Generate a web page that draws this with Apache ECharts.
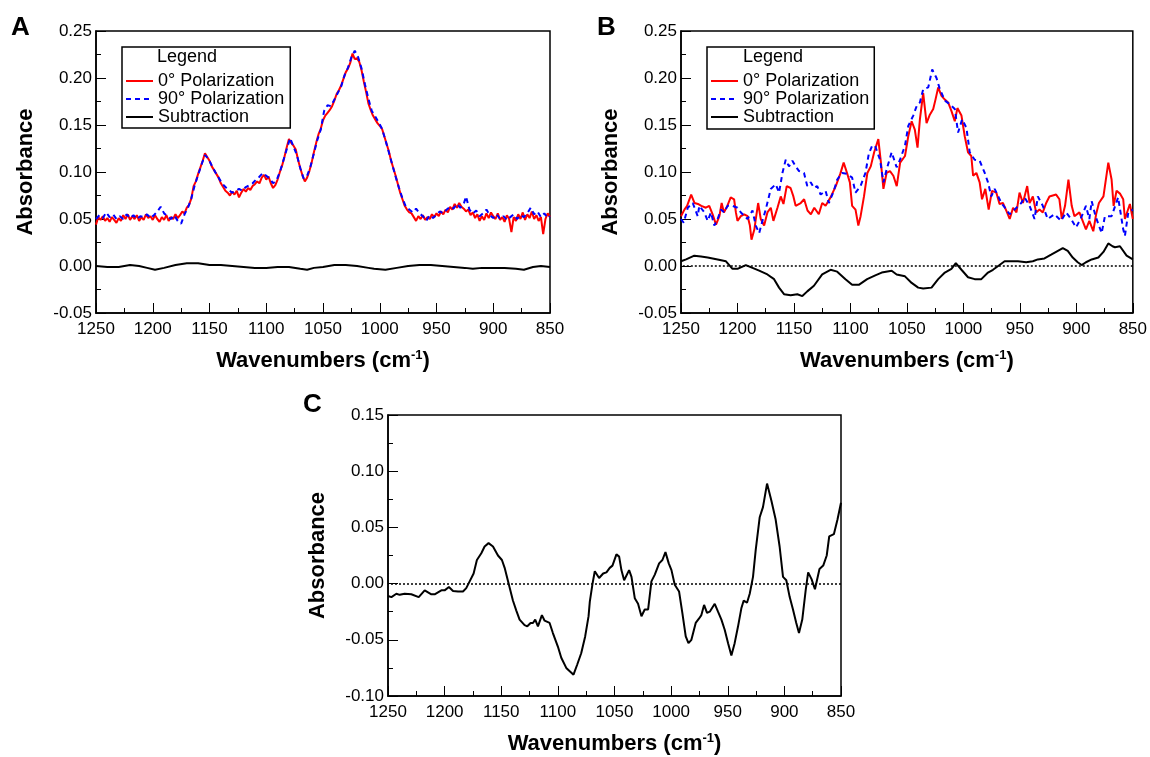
<!DOCTYPE html>
<html>
<head>
<meta charset="utf-8">
<script src="https://cdn.jsdelivr.net/npm/echarts@6/dist/echarts.min.js"></script>
<style>
  html, body { margin: 0; padding: 0; background: #fff; }
  #chart { width: 1150px; height: 757px; }
</style>
</head>
<body>
<div id="chart"></div>
<script>
const FONT = '"Liberation Sans", Arial, sans-serif'
const NAMES = ['0° Polarization', '90° Polarization', 'Subtraction']

// Panel A spectra  [wavenumber, absorbance]
const absA0 = [
  [1250,0.044],[1248,0.052],[1246,0.049],[1244,0.053],[1242,0.048],[1240,0.051],[1238,0.047],[1236,0.052],[1234,0.049],[1232,0.046],
  [1230,0.051],[1228,0.048],[1226,0.054],[1224,0.050],[1222,0.055],[1220,0.049],[1218,0.053],[1216,0.050],[1214,0.054],[1212,0.048],
  [1210,0.052],[1208,0.049],[1206,0.055],[1204,0.051],[1202,0.053],[1200,0.049],[1198,0.054],[1196,0.050],[1194,0.047],[1192,0.052],
  [1190,0.049],[1188,0.054],[1186,0.048],[1184,0.052],[1182,0.050],[1180,0.055],[1178,0.051],[1176,0.054],[1174,0.058],[1172,0.056],
  [1170,0.062],[1168,0.065],[1166,0.072],[1164,0.085],[1162,0.090],[1160,0.098],[1158,0.105],[1156,0.112],[1154,0.120],[1152,0.116],
  [1150,0.112],[1148,0.106],[1146,0.102],[1144,0.098],[1142,0.094],[1140,0.088],[1138,0.084],[1136,0.080],[1134,0.078],[1132,0.075],
  [1130,0.079],[1128,0.076],[1126,0.080],[1124,0.073],[1122,0.078],[1120,0.082],[1118,0.079],[1116,0.083],[1114,0.081],[1112,0.085],
  [1110,0.087],[1108,0.090],[1106,0.088],[1104,0.094],[1102,0.097],[1100,0.092],[1098,0.095],[1096,0.088],[1094,0.083],[1092,0.086],
  [1090,0.092],[1088,0.100],[1086,0.107],[1084,0.116],[1082,0.126],[1080,0.135],[1078,0.131],[1076,0.128],[1074,0.124],[1072,0.113],
  [1070,0.104],[1068,0.096],[1066,0.090],[1064,0.094],[1062,0.101],[1060,0.110],[1058,0.121],[1056,0.131],[1054,0.140],[1052,0.146],
  [1050,0.155],[1048,0.160],[1046,0.163],[1044,0.166],[1042,0.170],[1040,0.176],[1038,0.183],[1036,0.187],[1034,0.192],[1032,0.199],
  [1030,0.206],[1028,0.210],[1026,0.216],[1024,0.226],[1022,0.220],[1020,0.221],[1018,0.217],[1016,0.208],[1014,0.196],[1012,0.185],
  [1010,0.173],[1008,0.166],[1006,0.160],[1004,0.156],[1002,0.152],[1000,0.149],[998,0.146],[996,0.138],[994,0.130],[992,0.122],
  [990,0.112],[988,0.104],[986,0.096],[984,0.087],[982,0.078],[980,0.071],[978,0.064],[976,0.060],[974,0.057],[972,0.056],
  [970,0.052],[968,0.048],[966,0.053],[964,0.050],[962,0.054],[960,0.049],[958,0.052],[956,0.050],[954,0.055],[952,0.052],
  [950,0.056],[948,0.053],[946,0.058],[944,0.055],[942,0.060],[940,0.057],[938,0.063],[936,0.060],[934,0.066],[932,0.062],
  [930,0.067],[928,0.063],[926,0.061],[924,0.058],[922,0.060],[920,0.054],[918,0.057],[916,0.051],[914,0.055],[912,0.048],
  [910,0.053],[908,0.049],[906,0.056],[904,0.051],[902,0.057],[900,0.053],[898,0.050],[896,0.056],[894,0.049],[892,0.052],
  [890,0.047],[888,0.054],[886,0.050],[884,0.036],[882,0.052],[880,0.048],[878,0.055],[876,0.050],[874,0.057],[872,0.049],
  [870,0.055],[868,0.051],[866,0.058],[864,0.050],[862,0.054],[860,0.048],[858,0.052],[856,0.034],[854,0.050],[852,0.056],[850,0.052]
]
const absA90 = [
  [1250,0.050],[1247,0.054],[1244,0.051],[1241,0.057],[1238,0.052],[1235,0.055],[1232,0.050],[1229,0.053],[1226,0.050],[1223,0.055],
  [1220,0.051],[1217,0.054],[1214,0.050],[1211,0.053],[1208,0.052],[1205,0.055],[1202,0.051],[1199,0.054],[1196,0.058],[1193,0.063],
  [1190,0.056],[1187,0.053],[1184,0.050],[1181,0.054],[1178,0.048],[1175,0.045],[1172,0.055],[1169,0.062],[1166,0.072],[1163,0.086],
  [1160,0.097],[1157,0.108],[1154,0.118],[1151,0.114],[1148,0.107],[1145,0.100],[1142,0.094],[1139,0.088],[1136,0.084],[1133,0.081],
  [1130,0.078],[1127,0.080],[1124,0.082],[1121,0.080],[1118,0.084],[1115,0.086],[1112,0.088],[1109,0.092],[1106,0.095],[1103,0.099],
  [1100,0.096],[1097,0.093],[1094,0.088],[1091,0.091],[1088,0.100],[1085,0.112],[1082,0.124],[1079,0.136],[1076,0.127],[1073,0.118],
  [1070,0.104],[1067,0.093],[1064,0.096],[1061,0.106],[1058,0.120],[1055,0.134],[1052,0.145],[1049,0.165],[1046,0.171],[1043,0.170],
  [1040,0.177],[1037,0.184],[1034,0.191],[1031,0.203],[1028,0.211],[1025,0.222],[1022,0.229],[1019,0.222],[1016,0.210],[1013,0.193],
  [1010,0.178],[1007,0.165],[1004,0.159],[1001,0.153],[998,0.146],[995,0.134],[992,0.121],[989,0.108],[986,0.095],[983,0.083],
  [980,0.072],[977,0.063],[974,0.060],[971,0.057],[968,0.061],[965,0.056],[962,0.053],[959,0.048],[956,0.054],[953,0.051],
  [950,0.055],[947,0.058],[944,0.056],[941,0.060],[938,0.063],[935,0.061],[932,0.066],[929,0.062],[926,0.066],[924,0.074],
  [921,0.060],[918,0.056],[915,0.059],[912,0.053],[909,0.056],[906,0.060],[903,0.054],[900,0.051],[897,0.055],[894,0.050],
  [891,0.053],[888,0.049],[885,0.052],[882,0.055],[879,0.050],[876,0.054],[873,0.052],[870,0.056],[867,0.062],[864,0.055],
  [861,0.058],[858,0.052],[855,0.056],[852,0.051],[850,0.053]
]
const absASub = [
  [1250,0.000],[1240,-0.001],[1230,-0.001],[1220,0.001],[1212,0.000],[1205,-0.002],[1198,-0.004],[1190,-0.002],[1180,0.001],[1170,0.003],
  [1160,0.003],[1150,0.001],[1140,0.001],[1130,0.000],[1120,-0.001],[1110,-0.002],[1100,-0.002],[1090,-0.001],[1080,-0.001],[1070,-0.003],
  [1064,-0.004],[1058,-0.002],[1050,-0.001],[1040,0.001],[1030,0.001],[1020,0.000],[1010,-0.002],[1005,-0.003],[995,-0.004],[985,-0.002],
  [975,0.000],[965,0.001],[955,0.001],[945,0.000],[935,-0.001],[925,-0.002],[918,-0.003],[910,-0.002],[900,-0.002],[890,-0.002],
  [880,-0.003],[873,-0.004],[865,-0.001],[858,0.000],[850,-0.001]
]

// Panel B spectra
const absB0 = [
  [1250,0.053],[1247,0.060],[1244.6,0.064],[1241,0.076],[1238,0.067],[1235,0.066],[1232,0.064],[1228,0.062],[1225,0.064],[1222,0.055],
  [1219,0.044],[1216,0.053],[1214,0.067],[1212,0.057],[1209,0.064],[1206,0.073],[1203,0.071],[1201.4,0.057],[1200,0.048],[1197,0.053],
  [1194,0.055],[1191,0.053],[1189,0.043],[1187.6,0.028],[1185,0.039],[1184,0.048],[1181.7,0.067],[1179.4,0.050],[1176.4,0.043],[1173.5,0.057],
  [1170.5,0.062],[1168.2,0.048],[1164.6,0.062],[1161.7,0.074],[1159.3,0.066],[1156.4,0.085],[1153,0.083],[1150.5,0.074],[1148.5,0.064],[1144,0.067],
  [1141,0.071],[1138,0.059],[1135,0.055],[1132,0.062],[1128,0.055],[1125,0.067],[1122,0.064],[1117.6,0.073],[1113,0.085],[1109,0.098],
  [1106,0.110],[1103,0.099],[1100.5,0.089],[1098.5,0.064],[1095.5,0.060],[1093,0.043],[1091,0.053],[1088,0.074],[1085,0.099],[1082,0.106],
  [1079,0.121],[1075.3,0.135],[1073,0.110],[1070.8,0.082],[1068,0.099],[1065,0.101],[1062,0.096],[1059,0.085],[1056,0.110],[1051.7,0.117],
  [1048.8,0.138],[1045.8,0.154],[1043,0.145],[1040.6,0.126],[1038.5,0.156],[1035.6,0.184],[1032.6,0.152],[1029.7,0.161],[1026.7,0.167],[1024.7,0.177],
  [1022.3,0.190],[1019.4,0.181],[1016.4,0.177],[1013.5,0.174],[1010.6,0.165],[1007.6,0.154],[1005.3,0.168],[1001.7,0.160],[998.8,0.138],[995.9,0.121],
  [993,0.117],[991.4,0.096],[988.5,0.099],[985.6,0.089],[983.5,0.071],[980.6,0.082],[977.6,0.060],[974.7,0.080],[970.8,0.078],[968,0.066],
  [965,0.067],[962,0.059],[959,0.050],[956,0.062],[953,0.057],[950.3,0.078],[947.3,0.067],[943.5,0.085],[941.4,0.067],[938.5,0.074],
  [935.6,0.057],[932.6,0.060],[929.7,0.057],[926.7,0.067],[923.8,0.074],[917.9,0.076],[915,0.071],[912.9,0.050],[910,0.064],[907,0.092],
  [904.1,0.064],[901.7,0.053],[897.3,0.057],[894.4,0.048],[891.5,0.039],[888.5,0.048],[885,0.037],[882.5,0.055],[880,0.067],[876,0.074],
  [871.7,0.110],[868.8,0.092],[867,0.064],[864.4,0.080],[861.4,0.077],[858.5,0.071],[857,0.050],[852.6,0.066],[850,0.050]
]
const absB90 = [
  [1250,0.050],[1247.6,0.046],[1244,0.062],[1239.6,0.067],[1238.2,0.065],[1235.2,0.053],[1233.8,0.064],[1229.3,0.057],[1226.4,0.048],[1223.5,0.057],
  [1220.5,0.043],[1217.6,0.050],[1214.6,0.060],[1211.7,0.057],[1208.8,0.064],[1204.4,0.064],[1200,0.062],[1197,0.057],[1191.1,0.050],[1186.7,0.059],
  [1183.8,0.043],[1180.8,0.035],[1177.9,0.048],[1175,0.060],[1170.5,0.082],[1166.1,0.087],[1163.2,0.078],[1160.2,0.099],[1157.3,0.113],[1154.4,0.106],
  [1151.4,0.112],[1148.5,0.106],[1145.5,0.101],[1141.1,0.099],[1138.2,0.085],[1135.2,0.089],[1132.3,0.083],[1129.4,0.085],[1126.4,0.076],[1122,0.080],
  [1119.1,0.067],[1114.7,0.080],[1111.7,0.092],[1107.3,0.099],[1102.9,0.098],[1098.5,0.094],[1095.5,0.078],[1091.1,0.085],[1086.7,0.099],[1083.8,0.119],
  [1080.8,0.128],[1078.2,0.128],[1073.8,0.113],[1070.8,0.089],[1067.9,0.103],[1063.5,0.121],[1059.1,0.105],[1056.1,0.113],[1051.7,0.128],[1048.8,0.149],
  [1044.4,0.160],[1041.4,0.170],[1038.5,0.174],[1035.6,0.188],[1031.1,0.190],[1027.6,0.209],[1023.8,0.200],[1020.8,0.188],[1016.4,0.176],[1012,0.172],
  [1007.6,0.167],[1004.7,0.142],[1001.1,0.156],[997.3,0.147],[994.4,0.121],[990,0.113],[985.6,0.112],[981.1,0.099],[978.2,0.089],[975.3,0.074],
  [972.3,0.082],[966.4,0.067],[962,0.060],[959.1,0.055],[954.7,0.060],[948.8,0.067],[945.9,0.073],[941.4,0.064],[937,0.050],[934.1,0.074],
  [929.7,0.064],[925.3,0.050],[919.4,0.055],[913.5,0.048],[909.1,0.057],[904.7,0.050],[900.3,0.041],[895.9,0.051],[891.5,0.064],[888.5,0.050],
  [886.4,0.069],[883,0.053],[877.6,0.035],[874.7,0.053],[868.8,0.053],[863,0.073],[858.5,0.039],[857,0.032],[854,0.057],[850,0.060]
]
const absBSub = [
  [1250,0.005],[1245.5,0.007],[1238.2,0.011],[1232.3,0.010],[1226.4,0.009],[1217.6,0.007],[1210.2,0.005],[1204.4,-0.003],[1200,-0.003],[1192.6,0.001],
  [1186.7,-0.002],[1180.8,-0.005],[1173.5,-0.009],[1167.6,-0.014],[1163.2,-0.023],[1158.8,-0.030],[1152.9,-0.031],[1147,-0.030],[1142.6,-0.032],[1138.2,-0.027],
  [1132.3,-0.021],[1125,-0.009],[1117.6,-0.004],[1111.7,-0.006],[1104.4,-0.014],[1098.5,-0.020],[1092.6,-0.020],[1085.2,-0.014],[1078,-0.010],[1072.3,-0.007],
  [1063.5,-0.005],[1059.1,-0.009],[1051.7,-0.011],[1045.8,-0.018],[1040,-0.023],[1035.6,-0.024],[1028.2,-0.023],[1022.3,-0.014],[1016.4,-0.007],[1010.6,-0.003],
  [1006.7,0.003],[1001.7,-0.004],[995.9,-0.012],[990,-0.014],[984.1,-0.014],[978.2,-0.007],[973.8,-0.004],[968,0.001],[963.5,0.005],[957.6,0.005],
  [951.7,0.005],[944.4,0.004],[938.5,0.005],[934.1,0.007],[928.2,0.008],[922.3,0.012],[917.9,0.015],[912,0.019],[907.6,0.016],[903.2,0.009],
  [898.8,0.004],[895.3,0.001],[891.5,0.004],[886.4,0.007],[880.5,0.009],[876,0.015],[871.7,0.024],[868,0.021],[865.8,0.020],[861.4,0.021],
  [855.5,0.011],[850,0.007]
]

// Panel C difference spectrum
const absC = [
  [1250,-0.011],[1247,-0.012],[1242.6,-0.009],[1239.7,-0.010],[1235.3,-0.009],[1229.4,-0.0095],[1222.9,-0.012],[1217.6,-0.006],[1211.7,-0.0095],[1208.8,-0.0095],
  [1202.9,-0.006],[1200,-0.006],[1196.2,-0.003],[1192.6,-0.0065],[1188.2,-0.007],[1183.8,-0.007],[1180.9,-0.004],[1177.9,0.002],[1174.4,0.009],[1171.5,0.021],
  [1167.6,0.027],[1164.7,0.033],[1161.2,0.036],[1157.3,0.033],[1152.9,0.025],[1149.4,0.021],[1147,0.014],[1143.5,0.000],[1139.7,-0.015],[1136.7,-0.024],
  [1133.8,-0.032],[1129.4,-0.037],[1127,-0.038],[1124.1,-0.035],[1122,-0.035],[1120,-0.032],[1117.6,-0.038],[1114.1,-0.028],[1111.7,-0.033],[1107.3,-0.035],
  [1104.4,-0.044],[1100,-0.056],[1097,-0.066],[1092.6,-0.075],[1086.2,-0.081],[1082.9,-0.072],[1079.4,-0.062],[1075.9,-0.047],[1072.9,-0.029],[1071.8,-0.016],
  [1069.4,0.000],[1067.4,0.011],[1063.6,0.005],[1060,0.009],[1057.1,0.010],[1054.2,0.014],[1051.8,0.016],[1048.3,0.026],[1045.9,0.024],[1043.9,0.012],
  [1041.5,0.003],[1037.1,0.012],[1035,0.006],[1032.1,-0.013],[1029.2,-0.018],[1026.2,-0.029],[1023.3,-0.023],[1020.3,-0.023],[1017.4,0.002],[1014.4,0.008],
  [1010.6,0.018],[1007.7,0.021],[1005,0.028],[1002.1,0.018],[999.7,0.012],[996.8,-0.001],[993,-0.007],[990.1,-0.026],[987.1,-0.047],[984.7,-0.053],
  [982.1,-0.050],[978.3,-0.035],[975.3,-0.031],[973.3,-0.028],[970.9,-0.019],[968.3,-0.026],[965.9,-0.025],[961.5,-0.018],[958.6,-0.025],[955.6,-0.032],
  [952.7,-0.041],[949.7,-0.053],[946.8,-0.064],[943.9,-0.053],[940.9,-0.038],[938,-0.022],[935.9,-0.015],[933,-0.017],[930.6,-0.009],[927.7,0.006],
  [925.3,0.030],[921.8,0.059],[918.9,0.068],[915.3,0.089],[911.5,0.074],[907.7,0.057],[904.2,0.033],[901.2,0.006],[898.3,0.003],[895.3,-0.012],
  [892.4,-0.023],[889.5,-0.035],[887.1,-0.044],[884.2,-0.032],[881.2,-0.006],[879,0.010],[876,0.004],[873,-0.005],[869,0.013],[865.7,0.016],
  [862.6,0.025],[860.4,0.042],[856.3,0.044],[853.1,0.057],[850,0.072]
]

const grids = [
  { left: 96, top: 31, width: 454, height: 282 },
  { left: 681, top: 31, width: 453, height: 282 },
  { left: 388, top: 415, width: 453, height: 281 }
]
const yRanges = [[-0.05, 0.25], [-0.05, 0.25], [-0.10, 0.15]]

function xAxisFor(i) {
  return {
    type: 'value', gridIndex: i, min: 850, max: 1250, interval: 50, inverse: true,
    name: 'Wavenumbers (cm{sup|-1})', nameLocation: 'middle', nameGap: 36,
    nameTextStyle: {
      fontFamily: FONT, fontSize: 22, fontWeight: 'bold', color: '#000',
      rich: { sup: { fontFamily: FONT, fontSize: 13, fontWeight: 'bold', color: '#000', verticalAlign: 'top', padding: [0, 0, 10, 0] } }
    },
    axisLine: { onZero: false, lineStyle: { color: '#000', width: 1.5 } },
    axisTick: { inside: true, length: 10, lineStyle: { color: '#000', width: 1 } },
    minorTick: { show: true, splitNumber: 2, length: 5, lineStyle: { color: '#000', width: 1 } },
    axisLabel: { color: '#000', fontFamily: FONT, fontSize: 17, margin: 8, formatter: (v) => String(v) },
    splitLine: { show: false }
  }
}
function yAxisFor(i) {
  return {
    type: 'value', gridIndex: i, min: yRanges[i][0], max: yRanges[i][1], interval: 0.05,
    name: 'Absorbance', nameLocation: 'middle', nameGap: 59,
    nameTextStyle: { fontFamily: FONT, fontSize: 22, fontWeight: 'bold', color: '#000' },
    axisLine: { onZero: false, lineStyle: { color: '#000', width: 1.5 } },
    axisTick: { inside: true, length: 10, lineStyle: { color: '#000', width: 1 } },
    minorTick: { show: true, splitNumber: 2, length: 5, lineStyle: { color: '#000', width: 1 } },
    axisLabel: { color: '#000', fontFamily: FONT, fontSize: 17, margin: 4, formatter: (v) => v.toFixed(2) },
    splitLine: { show: false }
  }
}

const zeroLine = {
  silent: true, symbol: 'none', label: { show: false },
  lineStyle: { color: '#000', type: [2, 2], width: 1.5 },
  data: [{ yAxis: 0 }]
}

function lineSeries(name, data, idx, style, extra) {
  return Object.assign({
    name, type: 'line', data, xAxisIndex: idx, yAxisIndex: idx,
    showSymbol: false, symbol: 'none', smooth: false,
    lineStyle: style, itemStyle: { color: style.color }
  }, extra || {})
}
const RED = { color: '#ff0000', width: 2 }
const BLUE = { color: '#0000ff', width: 2, type: [5, 4] }
const BLACK = { color: '#000000', width: 2 }

const series = [
  lineSeries(NAMES[0], absA0, 0, RED),
  lineSeries(NAMES[1], absA90, 0, BLUE),
  lineSeries(NAMES[2], absASub, 0, BLACK),
  lineSeries(NAMES[0], absB0, 1, RED),
  lineSeries(NAMES[1], absB90, 1, BLUE),
  lineSeries(NAMES[2], absBSub, 1, BLACK, { markLine: zeroLine }),
  lineSeries('C', absC, 2, BLACK, { markLine: zeroLine })
]

function legendAt(left, top, rowHeight, padding) {
  return {
    left, top, orient: 'vertical', data: NAMES, selectedMode: false,
    borderColor: '#000', borderWidth: 1.5, padding,
    itemWidth: 27, itemHeight: 12, itemGap: 0,
    itemStyle: { opacity: 0 },
    textStyle: { fontFamily: FONT, fontSize: 18, color: '#000', lineHeight: rowHeight }
  }
}

function label(text, left, top, size, bold) {
  return {
    text, left, top, padding: 0,
    textStyle: { fontFamily: FONT, fontSize: size, fontWeight: bold ? 'bold' : 'normal', color: '#000' }
  }
}

const chart = echarts.init(document.getElementById('chart'), null, { renderer: 'canvas' })
chart.setOption({
  animation: false,
  backgroundColor: '#fff',
  title: [
    label('A', 11, 15, 26, true),
    label('B', 597, 15, 26, true),
    label('C', 303, 392, 26, true),
    label('Legend', 157, 48, 18, false),
    label('Legend', 743, 48, 18, false)
  ],
  legend: [
    legendAt(122, 47, 16, [25, 6, 2, 3]),
    legendAt(707, 47, 18, [25, 5, 3, 3])
  ],
  grid: grids.map((g) => Object.assign({ show: true, borderColor: '#000', borderWidth: 1.5, containLabel: false }, g)),
  xAxis: [0, 1, 2].map(xAxisFor),
  yAxis: [0, 1, 2].map(yAxisFor),
  series
})
</script>
</body>
</html>
